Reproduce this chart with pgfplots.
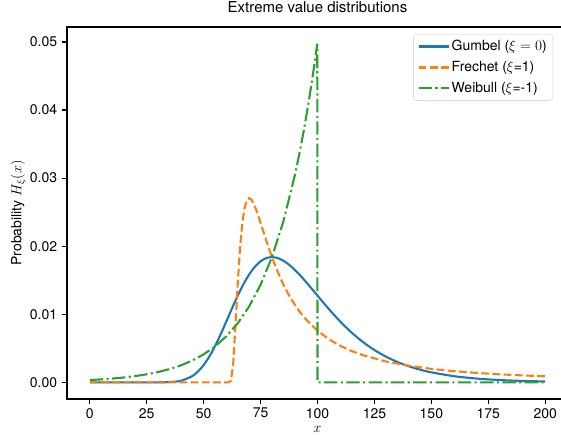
\documentclass[border=0pt]{standalone}
\usepackage[no-math]{fontspec}
\setmainfont{TeX Gyre Heros}
\usepackage{pgfplots}
\pgfplotsset{compat=1.18}
\definecolor{gumbel}{HTML}{1F77B4}
\definecolor{frechet}{HTML}{FF7F0E}
\definecolor{weibull}{HTML}{2CA02C}
\newcommand{\fnt}{\fontsize{14}{17}\selectfont}

\begin{document}
\fnt
\begin{tikzpicture}
\useasboundingbox (-67pt,-36pt) rectangle (494pt,399pt);
\begin{axis}[
  at={(0,0)}, anchor=south west,
  scale only axis,
  width=501pt, height=372pt,
  xmin=-10, xmax=210,
  ymin=-0.00245, ymax=0.0522,
  xtick={0,25,...,200},
  ytick={0,0.01,0.02,0.03,0.04,0.05},
  scaled y ticks=false,
  yticklabel style={/pgf/number format/fixed, /pgf/number format/fixed zerofill,
    /pgf/number format/precision=2},
  xticklabel style={inner sep=1pt, yshift=-3pt},
  /pgf/number format/assume math mode=true,
  tick label style={font=\fnt},
  tick align=outside,
  major tick length=5pt,
  xtick pos=bottom, ytick pos=left,
  every tick/.style={black, line width=1.1pt},
  axis line style={line width=1.1pt},
  title={Extreme value distributions},
  title style={font=\fontsize{15}{18}\selectfont, at={(axis description cs:0.5,1.038)}, anchor=center},
  xlabel={$x$},
  xlabel style={font=\fnt, inner sep=0pt, at={(axis description cs:0.5,-0.081)}, anchor=center},
  ylabel={Probability $H_\xi(x)$},
  ylabel style={font=\fnt, at={(axis description cs:-0.0978,0.5)}, anchor=center},
  legend cell align=left,
  legend image code/.code={\draw[#1] (0pt,0pt) -- (30pt,0pt);},
  legend style={font=\fnt, at={(0.970,0.981)}, anchor=north east,
    draw=black!20, rounded corners=3pt, fill=white, fill opacity=0.8,
    text opacity=1, inner sep=4pt, row sep=4.5pt},
]
\addplot[color=gumbel, line width=2.1pt, smooth] coordinates {
  (0,0) (20,0) (25,0.0000001) (30,0.0000031) (35,0.000036) (40,0.000229)
  (45,0.000911) (47.5,0.001582) (50,0.002535) (52.5,0.003788) (55,0.005322)
  (57.5,0.007077) (60,0.008969) (62.5,0.010894) (65,0.012746) (67.5,0.014423)
  (70,0.015852) (72.5,0.016980) (75,0.017779) (77.5,0.018245) (80,0.018394)
  (82.5,0.018256) (85,0.017871) (87.5,0.017283) (90,0.016535) (92.5,0.015671)
  (95,0.014727) (97.5,0.013738) (100,0.012732) (105,0.010757) (110,0.008926)
  (115,0.007302) (120,0.005910) (125,0.004743) (130,0.003781) (135,0.002999)
  (140,0.002369) (145,0.001865) (150,0.001465) (160,0.000899) (170,0.000549)
  (180,0.000335) (190,0.000203) (200,0.000124)
};
\addlegendentry{Gumbel ($\xi = 0$)}

\addplot[color=frechet, line width=2.1pt, dash pattern=on 7.8pt off 3.4pt] coordinates {
  (0,0) (30,0) (61,0) (62,0.000227) (63,0.002829) (64,0.008422) (65,0.014653)
  (66,0.019819) (67,0.023441) (68,0.025652) (69,0.026754) (70,0.027067)
  (71,0.026831) (72,0.026233) (73,0.025411) (74,0.024454) (75,0.023431)
  (76,0.022383) (77,0.021338) (78,0.020321) (79,0.019336) (80,0.018394)
  (82,0.016648) (84,0.015090) (85,0.014379) (87.5,0.012779) (90,0.011409)
  (92.5,0.010234) (95,0.009220) (100,0.007582) (105,0.006333) (110,0.005363)
  (115,0.004596) (120,0.003981) (130,0.003067) (140,0.002434) (150,0.001977)
  (160,0.001637) (170,0.001378) (180,0.001176) (190,0.001015) (200,0.000885)
};
\addlegendentry{Frechet ($\xi$=1)}

\addplot[color=weibull, line width=2.1pt,
  dash pattern=on 13.4pt off 3.4pt on 2.1pt off 3.4pt] coordinates {
  (0,0.000337) (5,0.000433) (10,0.000555) (15,0.000713) (20,0.000916)
  (25,0.001176) (30,0.001510) (35,0.001939) (40,0.002489) (45,0.003196)
  (50,0.004104) (55,0.005270) (60,0.006767) (65,0.008689) (70,0.011157)
  (75,0.014325) (80,0.018394) (85,0.023618) (90,0.030327) (92,0.033516)
  (94,0.037041) (96,0.040937) (98,0.045242) (99,0.047561) (99.9,0.049750)
  (100,0) (150,0) (200,0)
};
\addlegendentry{Weibull ($\xi$=-1)}
\end{axis}
\end{tikzpicture}
\end{document}
